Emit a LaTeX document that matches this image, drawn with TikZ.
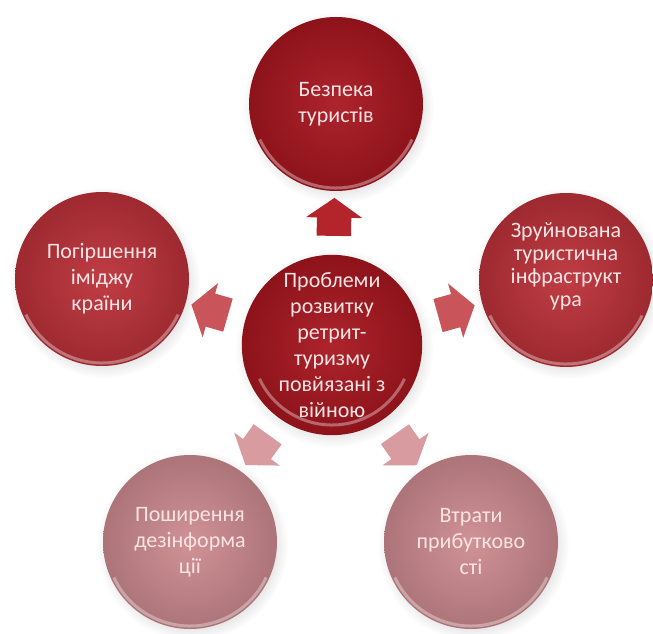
\documentclass[tikz,border=0pt]{standalone}
\usepackage{fontspec}
\setmainfont{Carlito}
\usetikzlibrary{shapes.arrows,shadows}

\definecolor{redDark}{HTML}{A8161F}
\definecolor{redMid}{HTML}{BC3139}
\definecolor{redPale}{HTML}{CD8B90}
\definecolor{arrowDark}{HTML}{B4242B}
\definecolor{arrowMid}{HTML}{C9555B}
\definecolor{arrowPale}{HTML}{D89CA0}
\definecolor{bubbleText}{HTML}{FCE4E4}

\begin{document}
\begin{tikzpicture}[x=1pt, y=1pt,
    bubble/.style={circle, minimum size=174pt, inner sep=0pt, align=center,
      text=bubbleText, font=\fontsize{22}{26}\selectfont,
      inner color=#1!94!white, outer color=#1!84!black,
      circular drop shadow={shadow xshift=2pt, shadow yshift=-3pt, opacity=.2}},
    rim/.style={white, opacity=.35, line width=3pt},
    blockarrow/.style={single arrow, fill=#1, inner sep=0pt,
      minimum height=38pt, single arrow head extend=11pt,
      single arrow tip angle=110, sloped, allow upside down}]

    \useasboundingbox (0,0) rectangle (653,633);

    % outer problems
    \node[bubble=redDark] (safety) at (336,529) {Безпека\\туристів};
    \node[bubble=redMid] (image) at (102,354) {Погіршення\\іміджу\\країни};
    \node[bubble=redMid, font=\fontsize{22}{23}\selectfont] (ruin) at (566,353)
      {Зруйнована\\туристична\\інфраструкт\\ура\\[8pt]};
    \node[bubble=redPale] (disinfo) at (190,91) {Поширення\\дезінформа\\ції};
    \node[bubble=redPale] (profit) at (471,91) {Втрати\\прибутково\\сті};

    % the core
    \node[bubble=redDark, minimum size=166pt] (core) at (332,288)
      {Проблеми\\розвитку\\ретрит-\\туризму\\повйязані з\\війною};

    \foreach \n/\r in {safety/84,image/84,ruin/84,disinfo/84,profit/84,core/80}
      \draw[rim] ([shift={(205:\r)}]\n.center) arc[start angle=205, end angle=335, radius=\r];

    \path (core) -- node[blockarrow=arrowDark] (toSafety) {\rule{0pt}{34pt}} (safety);
    \path (core) -- node[blockarrow=arrowMid] (toImage) {\rule{0pt}{34pt}} (image);
    \path (core) -- node[blockarrow=arrowMid] (toRuin) {\rule{0pt}{34pt}} (ruin);
    \path (core) -- node[blockarrow=arrowPale] (toDisinfo) {\rule{0pt}{34pt}} (disinfo);
    \path (core) -- node[blockarrow=arrowPale] (toProfit) {\rule{0pt}{34pt}} (profit);

\end{tikzpicture}
\end{document}
